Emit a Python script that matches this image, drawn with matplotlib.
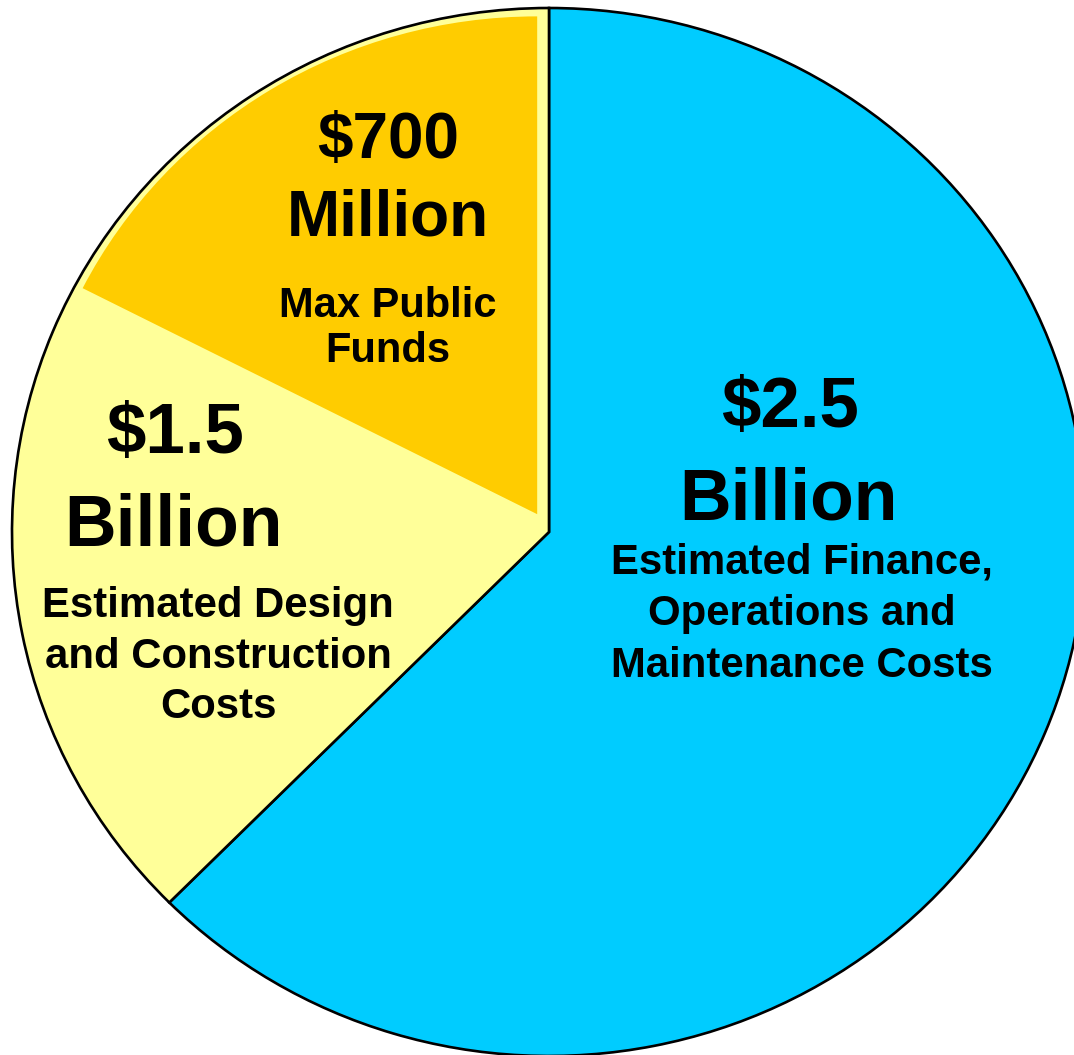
import matplotlib
matplotlib.use("Agg")
import matplotlib.pyplot as plt

# cost split, in billions of dollars
costs = [2.5, 1.5]
cost_colors = ["#00CCFF", "#FFFF99"]
public_funds = 0.7
public_color = "#FFCC00"

# text blocks
big_labels = [["$700", "Million"], ["$2.5", "Billion"], ["$1.5", "Billion"]]
small_labels = [["Max Public", "Funds"],
                ["Estimated Finance,", "Operations and", "Maintenance Costs"],
                ["Estimated Design", "and Construction", "Costs"]]

W, H = 1074, 1055
fig = plt.figure(figsize=(W / 100, H / 100), dpi=100)
ax = fig.add_axes([0, 0, 1, 1])

# main pie, blue clockwise from the top
ax.pie(costs, colors=cost_colors, startangle=90, counterclock=False,
       wedgeprops=dict(edgecolor="black", linewidth=1.9))

# the public funds part sits inside the yellow slice, slightly inset
total = sum(costs)
ax.pie([public_funds, total - public_funds], colors=[public_color, "none"],
       startangle=90, counterclock=True, radius=0.95, center=(-0.022, 0.034),
       wedgeprops=dict(linewidth=0))

# the original pie is a touch wider than tall
ax.set_aspect("auto")
cx, cy, rx, ry = 549, 532, 537, 524
ax.set_xlim(-cx / rx, (W - cx) / rx)
ax.set_ylim(-(H - cy) / ry, cy / ry)
ax.axis("off")

font = ["Liberation Sans", "DejaVu Sans"]


def put(x, y, s, size):
    # x, y in pixels from top left, y is the baseline
    fig.text(x / W, 1 - y / H, s, fontsize=size, fontweight="bold",
             family=font, ha="center", va="baseline")


# $700 Million
put(388, 158, big_labels[0][0], 46)
put(388, 235, big_labels[0][1], 46)
put(388, 317, small_labels[0][0], 30)
put(388, 362, small_labels[0][1], 30)

# $2.5 Billion
put(790, 427, big_labels[1][0], 51)
put(788, 519, big_labels[1][1], 51.5)
for s, y in zip(small_labels[1], [573, 625, 677]):
    put(802, y, s, 30.2)

# $1.5 Billion
put(175, 453, big_labels[2][0], 51)
put(173, 545, big_labels[2][1], 51.5)
for s, y in zip(small_labels[2], [617, 668, 718]):
    put(218, y, s, 30.2)

fig.savefig("out.png", dpi=100)
